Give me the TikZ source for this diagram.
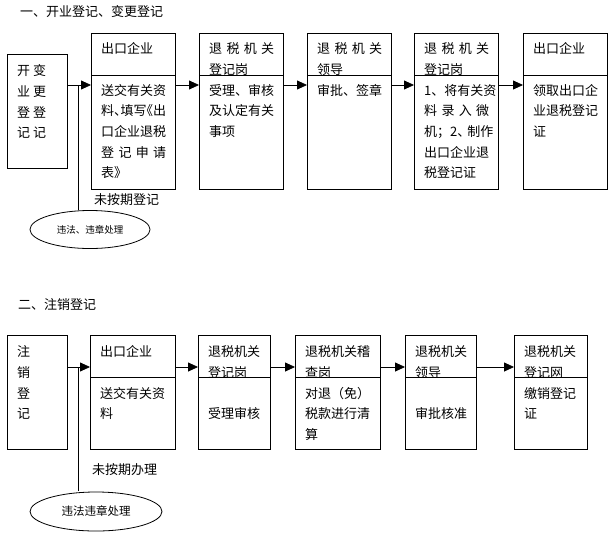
\documentclass[tikz,border=0pt]{standalone}
\usepackage{fontspec}
\setmainfont{Noto Sans CJK SC}
\usetikzlibrary{arrows.meta,shapes.geometric}
\newcommand{\spreadline}[1]{\makebox[65pt][s]{#1}}
\tikzset{%
  stage/.style    = {shape=rectangle, draw, anchor=north west,%
                     inner sep=0pt, line width=0.8pt},%
  steptext/.style = {anchor=north west, inner sep=0pt, align=left,%
                     font=\fontsize{13}{20.7}\selectfont},%
  penalty/.style  = {shape=ellipse, draw, inner sep=0pt, line width=0.8pt},%
  flow/.style     = {-{Triangle[length=10pt,width=9pt]}, line width=0.8pt}%
}
\begin{document}
\begin{tikzpicture}[x=1pt,y=-1pt,
	every node/.style = {font=\fontsize{13}{20.7}\selectfont},
	heading/.style = {anchor=west, inner sep=0pt},
	split/.style = {line width=0.8pt}]
		\useasboundingbox (0,0) rectangle (613,539);
		% one: opening and change
		\node [heading] (title1) at (20,12) {一、开业登记、变更登记};
		\node [stage,minimum width=60pt,minimum height=114pt] (open) at (7,54) {};
		\node [stage,minimum width=84pt,minimum height=156pt] (exp1) at (91,33) {};
		\node [stage,minimum width=84pt,minimum height=156pt] (reg1) at (199,33) {};
		\node [stage,minimum width=84pt,minimum height=156pt] (lead1) at (307,33) {};
		\node [stage,minimum width=84pt,minimum height=156pt] (reg2) at (414,33) {};
		\node [stage,minimum width=84pt,minimum height=156pt] (exp2) at (523,33) {};
		\node [steptext] (opentext) at (17,64.5)
			{开\hspace{3pt}变\\业\hspace{3pt}更\\登\hspace{3pt}登\\记\hspace{3pt}记};
		\node [steptext] (exp1text) at (101,42.5)
			{出口企业\\\mbox{}\\送交有关资\\料、\kern-6.5pt填写\kern-6.5pt《出\\口企业退税\\
			 \spreadline{登\hfill 记\hfill 申\hfill 请}\\表》};
		\node [steptext] (reg1text) at (209,42.5)
			{\spreadline{退\hfill 税\hfill 机\hfill 关}\\登记岗\\受理、审核\\及认定有关\\事项};
		\node [steptext] (lead1text) at (317,42.5)
			{\spreadline{退\hfill 税\hfill 机\hfill 关}\\领导\\审批、签章};
		\node [steptext] (reg2text) at (424,42.5)
			{\spreadline{退\hfill 税\hfill 机\hfill 关}\\登记岗\\1、将有关资\\
			 \spreadline{料\hfill 录\hfill 入\hfill 微}\\机；2、\kern-3pt制作\\出口企业退\\税登记证};
		\node [steptext] (exp2text) at (533,42.5)
			{出口企业\\\mbox{}\\领取出口企\\业退税登记\\证};
		\coordinate (cut1) at (0,75);
		\foreach \blk in {exp1,reg1,lead1,reg2,exp2}
			\draw [split] (\blk.west |- cut1) -- (\blk.east |- cut1);
		\coordinate (row1) at (0,85);
		\draw [flow] (open.east |- row1) -- (exp1.west |- row1);
		\draw [flow] (exp1.east |- row1) -- (reg1.west |- row1);
		\draw [flow] (reg1.east |- row1) -- (lead1.west |- row1);
		\draw [flow] (lead1.east |- row1) -- (reg2.west |- row1);
		\draw [flow] (reg2.east |- row1) -- (exp2.west |- row1);
		\node [penalty,minimum width=120pt,minimum height=38pt,
			font=\fontsize{9.5}{11}\selectfont] (fine1) at (90,229.5) {违法、违章处理};
		\coordinate (fork1) at (78,85);
		\draw [split] (fork1) -- ([yshift=0.4pt]fork1 |- fine1.north);
		\node [heading] (late1) at (94,200) {未按期登记};
		% two: cancellation
		\node [heading] (title2) at (18,305) {二、注销登记};
		\node [stage,minimum width=60pt,minimum height=114pt] (cancel) at (7,335) {};
		\node [stage,minimum width=85pt,minimum height=114pt] (exp3) at (90,335) {};
		\node [stage,minimum width=72pt,minimum height=114pt] (reg3) at (198,335) {};
		\node [stage,minimum width=85pt,minimum height=114pt] (audit) at (295,335) {};
		\node [stage,minimum width=71pt,minimum height=114pt] (lead2) at (405,335) {};
		\node [stage,minimum width=73pt,minimum height=114pt] (reg4) at (514,335) {};
		\node [steptext] (canceltext) at (17,345.5) {注\\销\\登\\记};
		\node [steptext] (exp3text) at (100,345.5) {出口企业\\\mbox{}\\送交有关资\\料};
		\node [steptext] (reg3text) at (208,345.5) {退税机关\\登记岗\\\mbox{}\\受理审核};
		\node [steptext] (audittext) at (305,345.5) {退税机关稽\\查岗\\对退（免）\\税款进行清\\算};
		\node [steptext] (lead2text) at (415,345.5) {退税机关\\领导\\\mbox{}\\审批核准};
		\node [steptext] (reg4text) at (524,345.5) {退税机关\\登记网\\缴销登记\\证};
		\coordinate (cut2) at (0,377);
		\foreach \blk in {exp3,reg3,audit,lead2,reg4}
			\draw [split] (\blk.west |- cut2) -- (\blk.east |- cut2);
		\coordinate (row2) at (0,367);
		\draw [flow] (cancel.east |- row2) -- (exp3.west |- row2);
		\draw [flow] (exp3.east |- row2) -- (reg3.west |- row2);
		\draw [flow] (reg3.east |- row2) -- (audit.west |- row2);
		\draw [flow] (audit.east |- row2) -- (lead2.west |- row2);
		\draw [flow] (lead2.east |- row2) -- (reg4.west |- row2);
		\node [penalty,minimum width=132pt,minimum height=39pt,
			font=\fontsize{11.5}{13}\selectfont] (fine2) at (96,511.5) {违法违章处理};
		\coordinate (fork2) at (78,367);
		\draw [split] (fork2) -- ([yshift=0.7pt]fork2 |- fine2.north);
		\node [heading] (late2) at (92,470) {未按期办理};
\end{tikzpicture}
\end{document}
